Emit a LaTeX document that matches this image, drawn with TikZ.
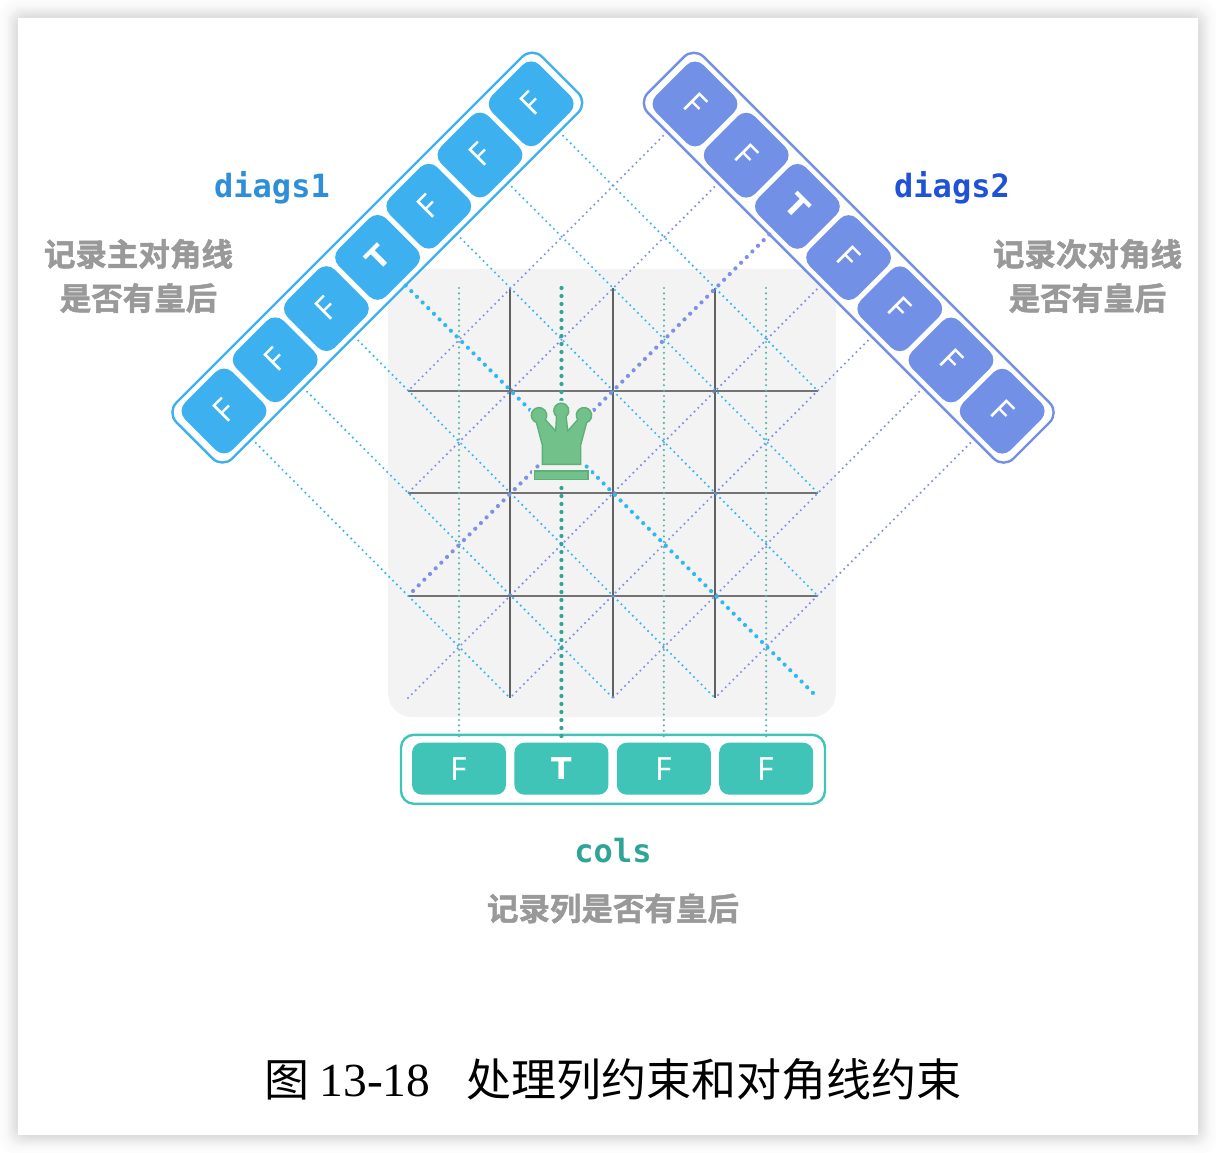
\documentclass[tikz,border=0pt]{standalone}
\usepackage{fontspec}
\setmainfont{Noto Sans}
\newfontfamily\cellbold{DejaVu Sans Bold}
\newfontfamily\cjkbold[FakeBold=1.5]{Noto Sans CJK SC Bold}
\newfontfamily\cjkplain{Noto Sans CJK SC}
\newfontfamily\monobold{DejaVu Sans Mono Bold}
\newfontfamily\capserif{Liberation Serif}
\usetikzlibrary{positioning}

\definecolor{panelgray}{HTML}{F3F3F3}
\definecolor{blueA}{HTML}{3DB0F0}
\definecolor{blueB}{HTML}{7290E6}
\definecolor{tealC}{HTML}{40C4B8}
\definecolor{lineA}{HTML}{2EB8F5}
\definecolor{lineB}{HTML}{7F90E6}
\definecolor{lineC}{HTML}{2FA596}
\definecolor{queenfill}{HTML}{72C08A}
\definecolor{queenedge}{HTML}{5CB078}
\definecolor{titleA}{HTML}{2E8FD8}
\definecolor{titleB}{HTML}{1F52D6}

\tikzset{
  cell/.style={rectangle,rounded corners=12pt,inner sep=0pt,text=white,
    font=\fontsize{32}{32}\selectfont},
  boldcell/.style={font=\cellbold\fontsize{30}{30}\selectfont},
  cellA/.style={cell,fill=blueA,minimum width=67pt,minimum height=67pt,rotate=45},
  cellB/.style={cell,fill=blueB,minimum width=67pt,minimum height=67pt,rotate=-45},
  cellC/.style={cell,fill=tealC,minimum width=94pt,minimum height=52pt,rounded corners=10pt},
  bar/.style={rectangle,draw,line width=2.4pt,fill=white,rounded corners=14pt,inner sep=0pt,
    minimum width=517pt,minimum height=79pt},
  thin dots/.style={line width=2.4pt,line cap=round,dash pattern=on 0pt off 5.4pt},
  thick dots/.style={line width=4.2pt,line cap=round,dash pattern=on 0pt off 8pt},
  note/.style={text=black!40,align=center,font=\cjkbold\fontsize{31.5}{44}\selectfont},
  title/.style={font=\monobold\fontsize{32}{32}\selectfont},
  gridline/.style={line width=1.6pt,draw=black!62},
  queen/.style={fill=queenfill,draw=queenedge,line width=1.4pt,
    preaction={draw=panelgray,line width=5pt}}
}

\begin{document}
\begin{tikzpicture}[x=1pt,y=-1pt,node distance=72.4pt]

  \useasboundingbox (0,0) rectangle (1216,1153);
  \fill[white] (0,0) rectangle (1216,1153);
  % page shadow
  \foreach \d/\g in {18/1,15/2,12/3,10/5,8/7,6/9,4/11,2/13}
    \fill[black!\g,rounded corners=14pt] (18-\d,18-\d) rectangle (1198+\d,1135+\d);
  \fill[white] (18,18) rectangle (1198,1135);

  % board
  \fill[panelgray,rounded corners=24pt] (388,269) rectangle (836,717);

  \coordinate (v1t) at (510,288);
  \coordinate (v1b) at (510,698);
  \coordinate (v2t) at (613,288);
  \coordinate (v2b) at (613,698);
  \coordinate (v3t) at (715,288);
  \coordinate (v3b) at (715,698);
  \coordinate (h1l) at (408,391);
  \coordinate (h1r) at (818,391);
  \coordinate (h2l) at (408,493);
  \coordinate (h2r) at (818,493);
  \coordinate (h3l) at (408,596);
  \coordinate (h3r) at (818,596);
  \coordinate (corner) at (818,698);
  \coordinate (cornerl) at (408,698);

  \draw[gridline] (v1t) -- (v1b);
  \draw[gridline] (v2t) -- (v2b);
  \draw[gridline] (v3t) -- (v3b);
  \draw[gridline,draw=black!55] (h1l) -- (h1r);
  \draw[gridline,draw=black!55] (h2l) -- (h2r);
  \draw[gridline,draw=black!55] (h3l) -- (h3r);

  % diags1
  \node[bar,draw=blueA,rotate=45] (barA) at (377.3,257.6) {};
  \node[cellA] (a1) at (224,411) {F};
  \node (a2) [above right of=a1,cellA] {F};
  \node (a3) [above right of=a2,cellA] {F};
  \node (a4) [above right of=a3,cellA,boldcell] {T};
  \node (a5) [above right of=a4,cellA] {F};
  \node (a6) [above right of=a5,cellA] {F};
  \node (a7) [above right of=a6,cellA] {F};

  % diags2
  \node[bar,draw=blueB,rotate=-45] (barB) at (848.7,257.7) {};
  \node[cellB] (b1) at (695,104) {F};
  \node (b2) [below right of=b1,cellB] {F};
  \node (b3) [below right of=b2,cellB,boldcell] {T};
  \node (b4) [below right of=b3,cellB] {F};
  \node (b5) [below right of=b4,cellB] {F};
  \node (b6) [below right of=b5,cellB] {F};
  \node (b7) [below right of=b6,cellB] {F};

  % cols
  \node[rectangle,draw=tealC,line width=2.4pt,fill=white,rounded corners=13pt,
    minimum width=424pt,minimum height=69pt] (barC) at (613,769.3) {};
  \node[cellC] (c1) at (459,768.7) {F};
  \node[node distance=102.4pt] (c2) [right of=c1,cellC,boldcell] {T};
  \node[node distance=102.4pt] (c3) [right of=c2,cellC] {F};
  \node[node distance=102.4pt] (c4) [right of=c3,cellC] {F};

  % constraint lines
  \draw[thin dots,lineA,shorten <=6pt] (a1) -- (v1b);
  \draw[thin dots,lineA,shorten <=6pt] (a2) -- (v2b);
  \draw[thin dots,lineA,shorten <=6pt] (a3) -- (v3b);
  \draw[thick dots,lineA,shorten <=6pt] (a4) -- (corner);
  \draw[thin dots,lineA,shorten <=6pt] (a5) -- (h3r);
  \draw[thin dots,lineA,shorten <=6pt] (a6) -- (h2r);
  \draw[thin dots,lineA,shorten <=6pt] (a7) -- (h1r);

  \draw[thin dots,lineB,shorten <=6pt] (b1) -- (h1l);
  \draw[thin dots,lineB,shorten <=6pt] (b2) -- (h2l);
  \draw[thick dots,lineB,shorten <=6pt] (b3) -- (h3l);
  \draw[thin dots,lineB,shorten <=6pt] (b4) -- (cornerl);
  \draw[thin dots,lineB,shorten <=6pt] (b5) -- (v1b);
  \draw[thin dots,lineB,shorten <=6pt] (b6) -- (v2b);
  \draw[thin dots,lineB,shorten <=6pt] (b7) -- (v3b);

  \coordinate (c1t) at (459,288);
  \coordinate (c2t) at (561.5,288);
  \coordinate (c3t) at (664,288);
  \coordinate (c4t) at (766,288);
  \draw[thin dots,lineC!80,shorten >=3pt] (c1t) -- (c1.north);
  \draw[thick dots,lineC,shorten >=1pt] (c2t) -- (c2.north);
  \draw[thin dots,lineC!80,shorten >=3pt] (c3t) -- (c3.north);
  \draw[thin dots,lineC!80,shorten >=3pt] (c4t) -- (c4.north);

  % queen
  \path[queen] (542.3,464.3) -- (542.3,445) -- (536.4,422.5)
    arc[start angle=250,end angle=-35,radius=7.7pt] -- (555.7,431) -- (556.5,416.4)
    arc[start angle=230,end angle=-50,radius=7.5pt] -- (567.7,431) -- (577.7,419.7)
    arc[start angle=215,end angle=-70,radius=7.7pt] -- (580.7,445) -- (580.7,464.3) -- cycle;
  \path[queen] (534.7,471) rectangle (588,479.3);

  % labels
  \node[title,text=titleA] (labelA) at (272,188) {diags1};
  \node[note] (noteA) at (138.5,276) {记录主对角线\\是否有皇后};
  \node[title,text=titleB] (labelB) at (952,188) {diags2};
  \node[note] (noteB) at (1087.5,276) {记录次对角线\\是否有皇后};
  \node[title,text=lineC] (labelC) at (613,851) {cols};
  \node[note] (noteC) at (613,908.5) {记录列是否有皇后};
  \node[font=\fontsize{45}{45}\selectfont] (caption) at (613,1080)
    {\cjkplain 图 \capserif\fontsize{47.5}{47.5}\selectfont 13-18\hspace{36pt}\cjkplain\fontsize{45}{45}\selectfont 处理列约束和对角线约束};

\end{tikzpicture}
\end{document}
